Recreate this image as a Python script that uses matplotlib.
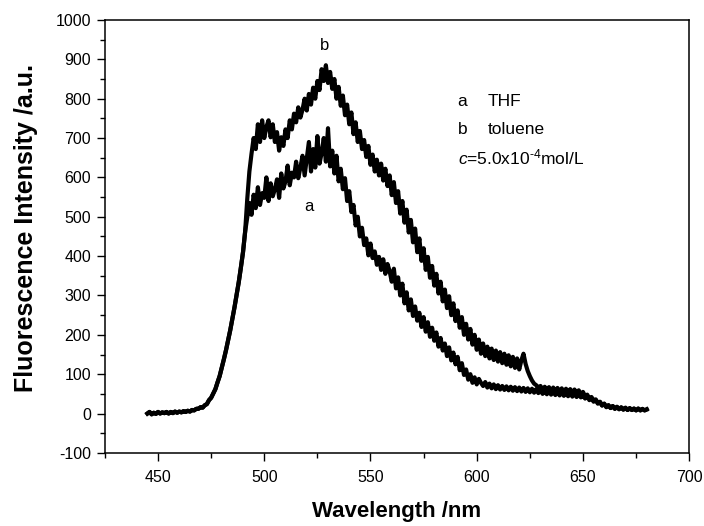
#!/usr/bin/env python3
"""Fluorescence spectra of the compound in THF (a) and toluene (b)."""

import matplotlib

matplotlib.use("Agg")
import matplotlib.pyplot as plt
import numpy as np
from matplotlib.ticker import MultipleLocator

plt.rcParams["font.family"] = ["Liberation Sans", "DejaVu Sans"]
plt.rcParams["mathtext.fontset"] = "custom"
plt.rcParams["mathtext.rm"] = "Liberation Sans"
plt.rcParams["mathtext.it"] = "Liberation Sans:italic"
plt.rcParams["axes.unicode_minus"] = False

# wavelength grid starts at 445 nm, 1 nm per point
START_NM = 445

# curve a, THF (rows of 10 points: 445, 455, ... 675)
thf = [
    0, 4, -2, 2, -1, 4, 0, 3, 1, 4,
    0, 4, 1, 5, 2, 5, 3, 6, 4, 7,
    5, 9, 8, 12, 12, 16, 15, 21, 24, 34,
    40, 51, 62, 79, 95, 116, 138, 161, 186, 212,
    241, 270, 302, 334, 371, 410, 462, 498, 535, 505,
    556, 522, 575, 530, 560, 548, 600, 540, 585, 552,
    570, 595, 548, 610, 572, 590, 630, 580, 612, 600,
    640, 598, 625, 655, 605, 648, 690, 615, 672, 625,
    705, 635, 662, 700, 640, 725, 628, 668, 610, 655,
    590, 622, 570, 598, 540, 565, 512, 530, 478, 500,
    450, 472, 428, 445, 402, 432, 395, 412, 378, 398,
    365, 392, 355, 380, 362, 335, 368, 318, 346, 300,
    330, 280, 308, 262, 290, 248, 272, 236, 256, 220,
    245, 208, 232, 195, 218, 185, 206, 170, 192, 160,
    178, 146, 168, 135, 155, 125, 144, 110, 128, 98,
    112, 86, 100, 78, 92, 74, 88, 78, 70, 80,
    66, 76, 64, 74, 62, 72, 61, 70, 60, 69,
    59, 68, 58, 67, 57, 66, 56, 65, 55, 64,
    54, 63, 53, 62, 52, 60, 50, 59, 49, 58,
    48, 57, 47, 56, 46, 55, 45, 54, 44, 53,
    43, 52, 42, 50, 41, 47, 38, 44, 34, 39,
    30, 34, 25, 29, 20, 25, 16, 21, 14, 19,
    12, 17, 11, 16, 10, 15, 9, 14, 9, 13,
    8, 13, 8, 12, 8, 11,
]

# curve b, toluene
toluene = [
    0, 4, -2, 2, -1, 4, 0, 3, 1, 4,
    0, 4, 1, 5, 2, 5, 3, 6, 4, 7,
    5, 9, 8, 12, 12, 16, 15, 21, 24, 34,
    40, 51, 62, 79, 95, 116, 138, 161, 186, 212,
    241, 270, 302, 334, 371, 410, 462, 545, 615, 660,
    700, 672, 735, 690, 745, 700, 728, 745, 702, 735,
    690, 715, 668, 702, 680, 722, 700, 745, 722, 762,
    740, 778, 752, 772, 800, 770, 812, 785, 828, 800,
    845, 822, 875, 845, 885, 840, 868, 825, 850, 800,
    830, 782, 808, 758, 785, 735, 765, 710, 740, 690,
    718, 672, 695, 652, 680, 632, 658, 615, 645, 605,
    635, 592, 622, 578, 605, 555, 588, 535, 565, 508,
    540, 485, 518, 460, 492, 435, 470, 410, 445, 388,
    420, 365, 398, 345, 375, 325, 355, 305, 335, 285,
    315, 268, 298, 250, 280, 235, 262, 218, 245, 200,
    228, 188, 215, 175, 200, 162, 188, 152, 178, 146,
    170, 140, 165, 136, 160, 132, 156, 128, 152, 124,
    148, 120, 144, 116, 140, 112, 135, 152, 126, 108,
    95, 84, 76, 72, 66, 70, 60, 68, 58, 67,
    56, 66, 55, 65, 54, 64, 53, 63, 52, 62,
    51, 61, 50, 59, 48, 55, 44, 48, 38, 42,
    33, 36, 27, 30, 21, 25, 17, 21, 14, 19,
    12, 17, 11, 15, 10, 14, 9, 13, 9, 12,
    8, 12, 8, 11, 8, 10,
]

legend_keys = ["a", "b"]
legend_names = ["THF", "toluene"]


def main() -> None:
    fig = plt.figure(figsize=(7.04, 5.26), dpi=100)
    ax = fig.add_axes([0.149, 0.139, 0.830, 0.823])

    wl_a = np.arange(START_NM, START_NM + len(thf))
    wl_b = np.arange(START_NM, START_NM + len(toluene))
    ax.plot(wl_b, toluene, color="black", lw=3.0, solid_joinstyle="round")
    ax.plot(wl_a, thf, color="black", lw=3.0, solid_joinstyle="round")

    ax.text(528.5, 935, "b", fontsize=12, ha="center", va="center")
    ax.text(521, 525, "a", fontsize=12, ha="center", va="center")

    for i, (key, name) in enumerate(zip(legend_keys, legend_names)):
        y = 793 - i * 71
        ax.text(591, y, key, fontsize=12.5, va="center")
        ax.text(605, y, name, fontsize=12.5, va="center")
    ax.text(591, 650, r"$c$=5.0x10$^{\text{-}4}$mol/L", fontsize=12.5, va="center")

    ax.set_xlim(425, 700)
    ax.set_ylim(-100, 1000)
    ax.xaxis.set_major_locator(MultipleLocator(50))
    ax.xaxis.set_minor_locator(MultipleLocator(25))
    ax.yaxis.set_major_locator(MultipleLocator(100))
    ax.yaxis.set_minor_locator(MultipleLocator(50))
    ax.tick_params(which="both", direction="out", top=False, right=False, width=1.0)
    ax.tick_params(which="major", length=6, labelsize=11.5)
    ax.tick_params(which="minor", length=3.5)
    ax.tick_params(axis="x", which="major", pad=6)
    ax.tick_params(axis="y", which="major", pad=4)
    ax.set_xticks([450, 500, 550, 600, 650, 700])
    for spine in ax.spines.values():
        spine.set_linewidth(1.1)

    ax.set_xlabel("Wavelength /nm", fontsize=16, fontweight="bold", labelpad=12)
    ax.set_ylabel("Fluorescence Intensity /a.u.", fontsize=18, fontweight="bold", labelpad=12)
    ax.yaxis.set_label_coords(-0.115, 0.52)

    fig.savefig("out.png", dpi=100)
    plt.close(fig)


if __name__ == "__main__":
    main()
